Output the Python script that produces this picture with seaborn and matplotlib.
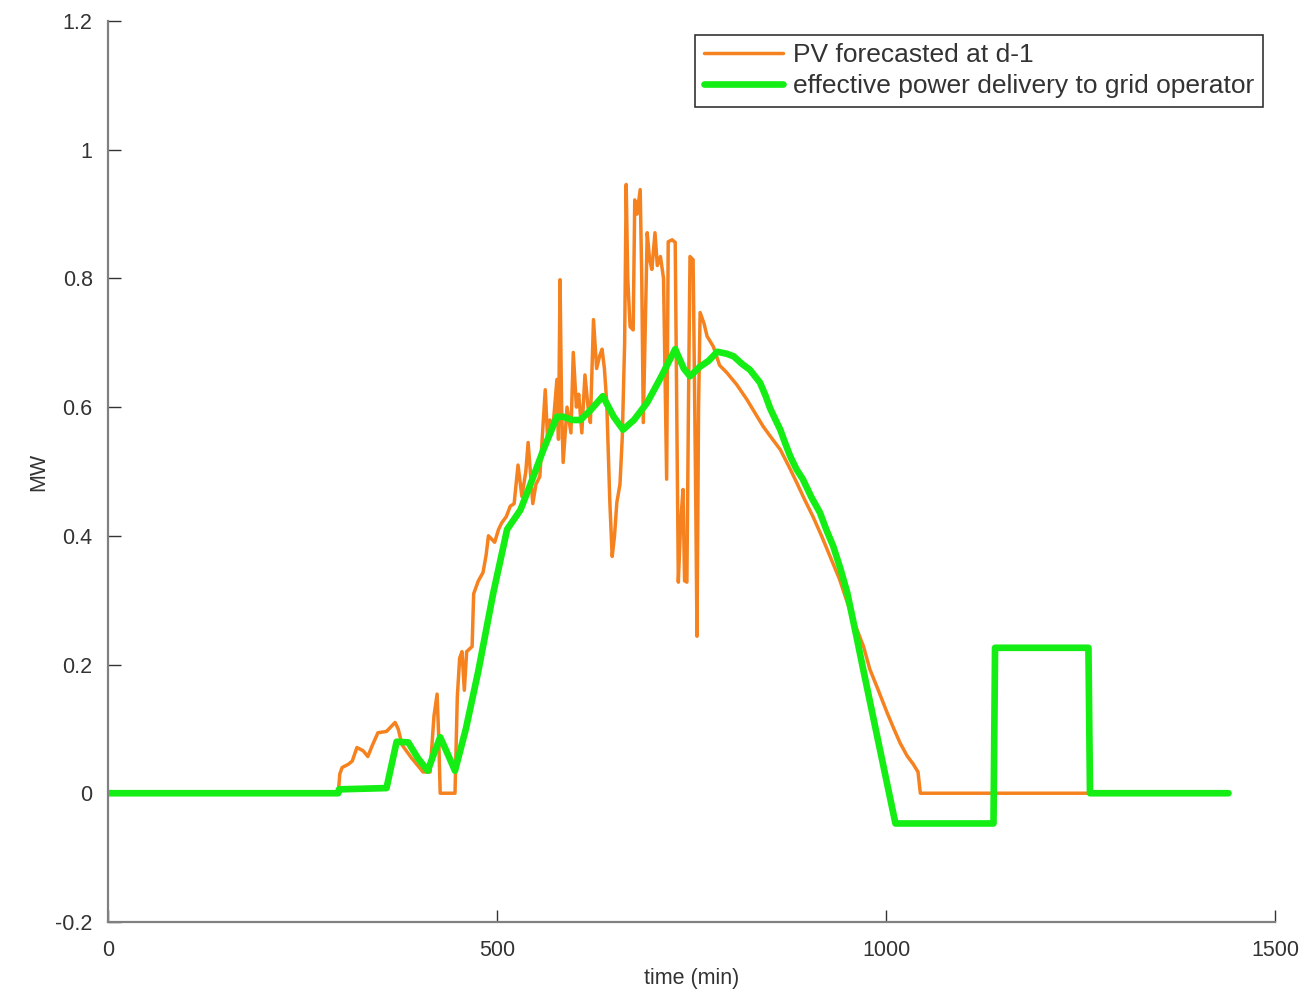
import matplotlib
matplotlib.use("Agg")
import matplotlib.pyplot as plt
import numpy as np
import pandas as pd
import seaborn as sns

# PV forecast made the day before (minutes, MW)
pv_time = [0, 296, 298, 301, 309, 314, 320, 328, 334, 340, 347, 358, 365, 369, 373,
           378, 390, 405, 414, 419, 423, 425, 427, 446, 449, 452, 455, 458, 461, 468,
           470, 476, 482, 486, 489, 497, 502, 506, 512, 517, 522, 527, 532, 537, 540,
           546, 550, 555, 562, 565, 568, 572, 577, 579, 581, 583, 585, 590, 595, 598,
           602, 605, 609, 613, 617, 620, 624, 628, 632, 635, 638, 641, 645, 648, 651,
           654, 658, 661, 664, 666, 668, 671, 675, 677, 680, 684, 686, 688, 691, 693,
           696, 699, 703, 706, 710, 714, 718, 720, 725, 729, 731, 733, 736, 739, 741,
           744, 746, 748, 752, 755, 757, 759, 761, 766, 770, 778, 786, 795, 808, 821,
           832, 842, 851, 864, 875, 885, 895, 906, 917, 928, 940, 950, 960, 971, 979,
           990, 1001, 1010, 1018, 1027, 1035, 1041, 1044, 1440]
pv_mw = [0, 0, 0.03, 0.04, 0.045, 0.05, 0.071, 0.066, 0.057, 0.075, 0.094, 0.096, 0.105, 0.11, 0.1,
         0.075, 0.055, 0.033, 0.033, 0.12, 0.154, 0.09, 0, 0, 0.15, 0.21, 0.22, 0.16, 0.22, 0.228,
         0.31, 0.33, 0.343, 0.37, 0.4, 0.39, 0.41, 0.42, 0.43, 0.446, 0.45, 0.51, 0.461, 0.5, 0.545,
         0.45, 0.48, 0.492, 0.627, 0.55, 0.58, 0.57, 0.643, 0.55, 0.798, 0.6, 0.514, 0.6, 0.56, 0.685,
         0.6, 0.62, 0.56, 0.65, 0.6, 0.576, 0.736, 0.66, 0.68, 0.69, 0.66, 0.607, 0.452, 0.368, 0.40,
         0.452, 0.48, 0.554, 0.7, 0.946, 0.8, 0.725, 0.72, 0.922, 0.9, 0.938, 0.8, 0.576, 0.75, 0.871,
         0.83, 0.814, 0.871, 0.82, 0.834, 0.8, 0.488, 0.857, 0.86, 0.856, 0.6, 0.328, 0.42, 0.472, 0.33,
         0.328, 0.6, 0.834, 0.829, 0.5, 0.244, 0.6, 0.747, 0.73, 0.71, 0.694, 0.665, 0.654, 0.635, 0.612,
         0.59, 0.57, 0.555, 0.534, 0.508, 0.483, 0.457, 0.43, 0.4, 0.368, 0.333, 0.297, 0.262, 0.228, 0.193,
         0.16, 0.126, 0.1, 0.078, 0.058, 0.045, 0.033, 0, 0]

# Power actually delivered to the grid operator (minutes, MW)
grid_time = [0, 296, 297, 358, 371, 386, 398, 411, 420, 427, 437, 446, 460, 476, 495,
             513, 530, 542, 560, 577, 585, 597, 607, 620, 636, 650, 662, 676, 693, 710,
             729, 740, 748, 761, 772, 783, 795, 804, 815, 825, 838, 845, 851, 858, 864,
             870, 877, 885, 893, 904, 915, 923, 932, 941, 950, 962, 971, 990, 1012, 1138,
             1140, 1260, 1262, 1440]
grid_mw = [0, 0, 0.006, 0.008, 0.08, 0.079, 0.055, 0.035, 0.065, 0.087, 0.06, 0.035, 0.1, 0.19, 0.31,
           0.41, 0.44, 0.477, 0.535, 0.585, 0.585, 0.58, 0.58, 0.595, 0.617, 0.585, 0.565, 0.58, 0.607, 0.645,
           0.69, 0.66, 0.648, 0.663, 0.672, 0.686, 0.683, 0.679, 0.667, 0.658, 0.638, 0.618, 0.598, 0.58, 0.565,
           0.545, 0.523, 0.503, 0.488, 0.46, 0.436, 0.41, 0.384, 0.35, 0.312, 0.243, 0.19, 0.08, -0.047, -0.047,
           0.226, 0.226, 0, 0]

x_ticks = [0, 500, 1000, 1500]
y_ticks = [-0.2, 0, 0.2, 0.4, 0.6, 0.8, 1.0, 1.2]
y_tick_labels = ["-0.2", "0", "0.2", "0.4", "0.6", "0.8", "1", "1.2"]

series_pv = "PV forecasted at d-1"
series_grid = "effective power delivery to grid operator"

sns.set_theme(style="ticks")
plt.rcParams["font.family"] = ["Liberation Sans", "DejaVu Sans"]

fig = plt.figure(figsize=(13.16, 10.01), dpi=100)
ax = fig.add_axes([0.082, 0.079, 0.887, 0.900])

pv_df = pd.DataFrame({"time": pv_time, "MW": pv_mw})
grid_df = pd.DataFrame({"time": grid_time, "MW": grid_mw})

sns.lineplot(data=pv_df, x="time", y="MW", ax=ax, estimator=None, sort=False,
             color="#f5821f", linewidth=2.5, label=series_pv)
sns.lineplot(data=grid_df, x="time", y="MW", ax=ax, estimator=None, sort=False,
             color="#14ee14", linewidth=4.8, label=series_grid)

ax.set_xlim(0, 1500)
ax.set_ylim(-0.2, 1.2)
ax.set_xticks(x_ticks)
ax.set_xticklabels([str(t) for t in x_ticks])
ax.set_yticks(y_ticks)
ax.set_yticklabels(y_tick_labels)
ax.tick_params(direction="in", length=9, width=1, colors="#333333",
               labelsize=15.5)
ax.tick_params(axis="y", pad=11)
ax.tick_params(axis="x", pad=13)

for side in ("top", "right"):
    ax.spines[side].set_visible(False)
for side in ("left", "bottom"):
    ax.spines[side].set_color("#808080")
    ax.spines[side].set_linewidth(1.6)

ax.set_xlabel("time (min)", fontsize=15.5, color="#333333", labelpad=5)
ax.set_ylabel("MW", fontsize=15.5, color="#333333", labelpad=4)

leg = ax.legend(loc="upper right", bbox_to_anchor=(0.9897, 0.985), fontsize=19,
                frameon=True, fancybox=False, framealpha=1, edgecolor="#333333",
                handlelength=3.0, handletextpad=0.4, borderpad=0.32,
                labelspacing=0.28, borderaxespad=0)
leg.get_frame().set_linewidth(1.2)
for txt in leg.get_texts():
    txt.set_color("#333333")

fig.savefig("out.png", dpi=100, facecolor="white")
